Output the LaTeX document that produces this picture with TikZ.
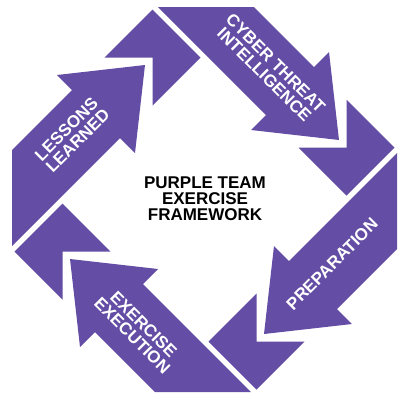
\documentclass[tikz,border=0pt]{standalone}
\usepackage{fontspec}
\setmainfont{Liberation Sans}
\usepackage{xcolor}
\definecolor{ringpurple}{RGB}{100,77,164}

\begin{document}
\begin{tikzpicture}[x=1pt, y=-1pt, line join = round,
  piece/.style={fill=ringpurple},
  steplabel/.style={text=white, align=center, inner sep=0pt, font=\bfseries\fontsize{17}{16}\selectfont},
  titlelabel/.style={text=black, align=center, inner sep=0pt, font=\bfseries\fontsize{17}{16}\selectfont}]

\useasboundingbox (0,0) rectangle (412,400);

% arrows, clockwise from the top
\fill[piece] (158,7) -- (254,7) -- (314,67) -- (329,52) -- (339,140) -- (251,130) -- (266,115) -- cycle; % cyber threat intelligence
\fill[piece] (397,153) -- (397,249) -- (337,309) -- (352,324) -- (264,334) -- (274,246) -- (289,261) -- cycle; % preparation
\fill[piece] (251,392) -- (155,392) -- (95,332) -- (80,347) -- (70,259) -- (158,269) -- (143,284) -- cycle; % exercise execution
\fill[piece] (12,246) -- (12,150) -- (72,90) -- (57,75) -- (145,65) -- (135,153) -- (120,138) -- cycle; % lessons learned

% notched blocks that take the arrow heads
\fill[piece] (152.5,57.5) -- (104.5,57.5) -- (152.5,9.5) -- (200.5,57.5) -- (152.5,105.5) -- cycle; % top
\fill[piece] (346.5,147.5) -- (346.5,99.5) -- (394.5,147.5) -- (346.5,195.5) -- (298.5,147.5) -- cycle; % right
\fill[piece] (256.5,341.5) -- (304.5,341.5) -- (256.5,389.5) -- (208.5,341.5) -- (256.5,293.5) -- cycle; % bottom
\fill[piece] (62.5,251.5) -- (62.5,299.5) -- (14.5,251.5) -- (62.5,203.5) -- (110.5,251.5) -- cycle; % left

% arrow labels
\node[steplabel, rotate=-45] (cti) at (270,69) {CYBER THREAT\\INTELLIGENCE};
\node[steplabel, rotate=45] (prep) at (332,264) {PREPARATION};
\node[steplabel, rotate=-45] (exec) at (138,330) {EXERCISE\\EXECUTION};
\node[steplabel, rotate=45] (lessons) at (72,135) {LESSONS\\LEARNED};

% centre title
\node[titlelabel] (title) at (205,199) {PURPLE TEAM\\EXERCISE\\FRAMEWORK};

\end{tikzpicture}
\end{document}
